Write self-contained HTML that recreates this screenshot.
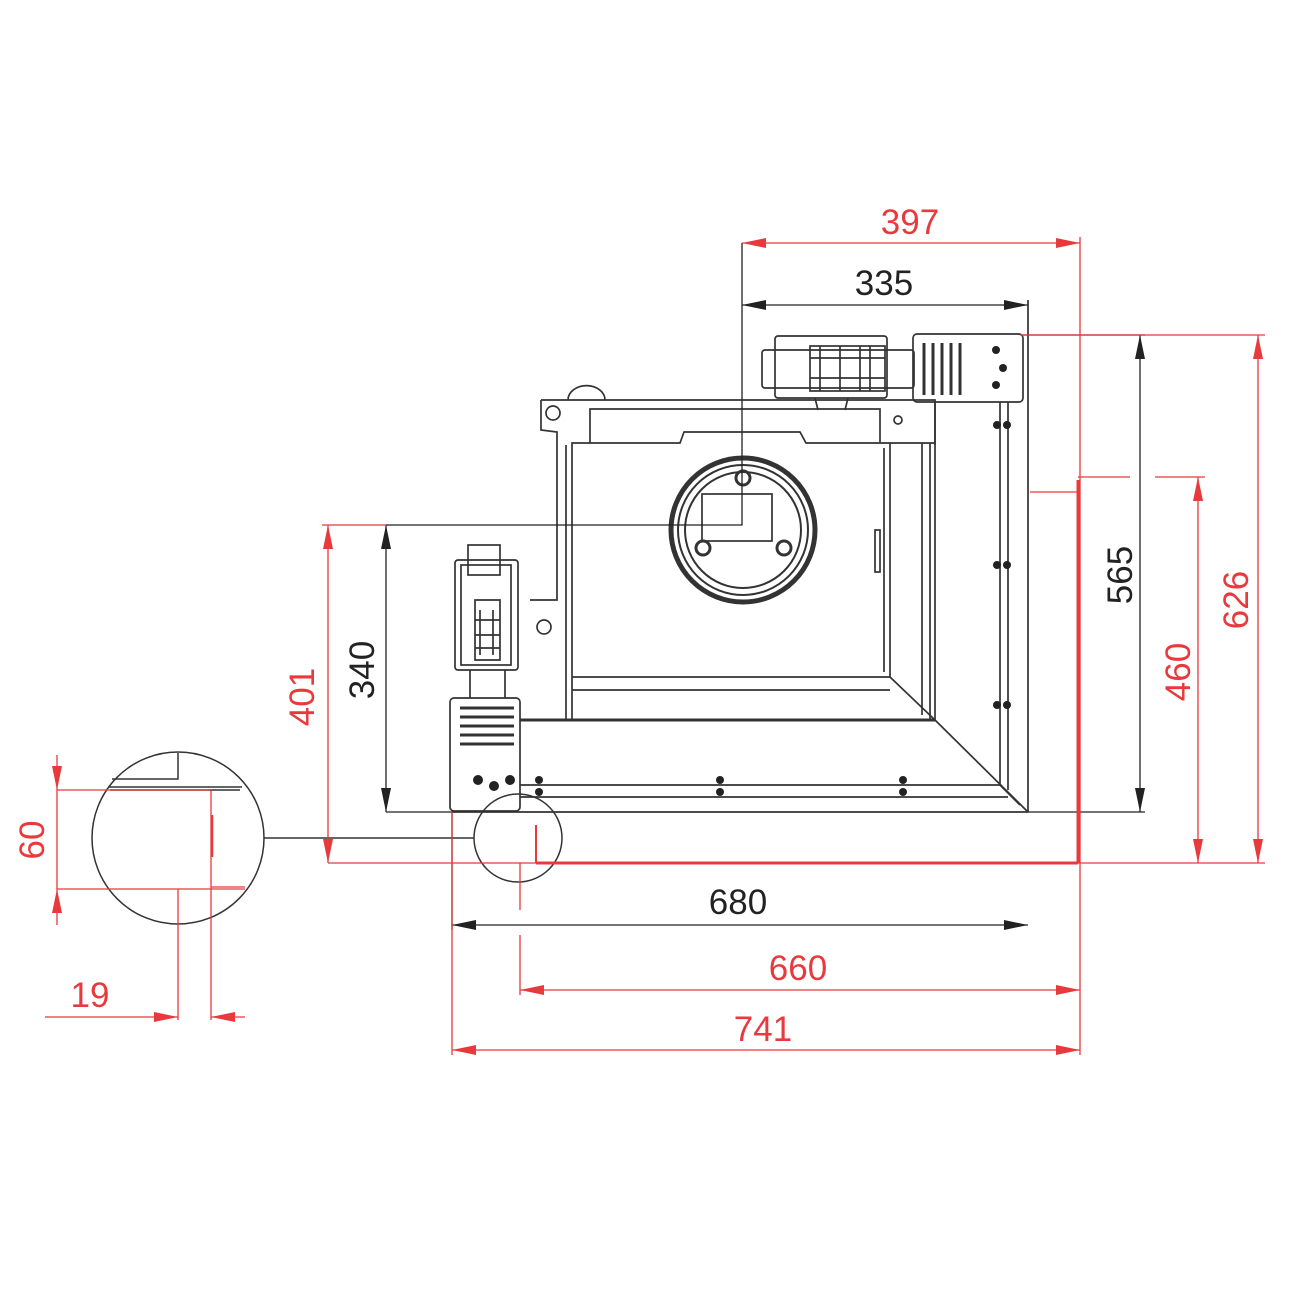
<!DOCTYPE html>
<html><head><meta charset="utf-8"><style>
html,body{margin:0;padding:0;background:#fff;}
svg{display:block;}
text{font-family:"Liberation Sans",sans-serif;font-size:35px;}
</style></head><body>
<svg width="1300" height="1300" viewBox="0 0 1300 1300" xmlns="http://www.w3.org/2000/svg">
<defs>
<marker id="ar" viewBox="0 0 24 10" refX="24" refY="5" markerWidth="24" markerHeight="10" markerUnits="userSpaceOnUse" orient="auto-start-reverse"><path d="M0,0L24,5L0,10z" fill="#e8393c"/></marker>
<marker id="ab" viewBox="0 0 24 10" refX="24" refY="5" markerWidth="24" markerHeight="10" markerUnits="userSpaceOnUse" orient="auto-start-reverse"><path d="M0,0L24,5L0,10z" fill="#222"/></marker>
</defs>
<rect width="1300" height="1300" fill="#fff"/>

<g fill="none" stroke="#333" stroke-width="1.7">
<path d="M541,400 L935,400 L935,445 M541,400 L541,430 L557,432 L557,600 L530,600"/>
<circle cx="553" cy="413" r="7"/>
<circle cx="544" cy="627" r="7"/>
<path d="M568,400 A18,14 0 0 1 605,400"/>
<path d="M590,443 L590,409 L880,409 L880,443"/>
<path d="M572,720 L572,443 L680,443 L684,432 L800,432 L806,443 L935,443"/>
<path d="M566,445 L566,720"/>
<path d="M890,443 L890,677 L572,677 M572,690 L890,690"/>
<path d="M884,448 L884,672"/>
<path d="M922,443 L922,715 M930,443 L930,720"/>
<path d="M890,677 L935,720"/>
<circle cx="898" cy="420" r="4"/>
<path d="M935,402 L935,720 M1000,402 L1000,785 M1008,402 L1008,790 M1028,300 L1028,812"/>
<path d="M520,785 L1000,785 M520,797 L1008,797 M452,812 L1028,812"/>
<path d="M935,720 L1028,812 M1000,785 L1020,805"/>
<circle cx="743" cy="530" r="72" stroke-width="5"/>
<circle cx="743" cy="530" r="65" stroke-width="2"/>
<circle cx="743" cy="530" r="58" stroke-width="2"/>
<rect x="702" y="494" width="70" height="47"/>
<circle cx="743" cy="478" r="7" stroke-width="3"/>
<circle cx="703" cy="548" r="7" stroke-width="3"/>
<circle cx="784" cy="548" r="7" stroke-width="3"/>
<rect x="875" y="530" width="5" height="42"/>
<rect x="775" y="336" width="112" height="62" rx="3"/>
<rect x="762" y="350" width="152" height="38" rx="3"/>
<rect x="810" y="346" width="75" height="45"/>
<path d="M810,358 L885,358 M810,378 L885,378 M840,346 L840,391 M860,346 L860,391 M820,346 L820,391 M870,346 L870,391"/>
<path d="M815,398 L818,410 M848,398 L845,410"/>
<rect x="913" y="334" width="110" height="68" rx="4"/>
<g stroke-width="3"><path d="M924,343 V395 M933,343 V395 M942,343 V395 M951,343 V395 M960,343 V395"/></g>
<rect x="468" y="545" width="32" height="30"/>
<rect x="455" y="560" width="63" height="110" rx="3"/>
<rect x="461" y="565" width="50" height="100"/>
<path d="M475,600 L500,600 L500,660 L475,660 Z M480,610 V655 M493,610 V655 M475,635 H500 M475,620 H500 M475,648 H500"/>
<path d="M470,670 L470,698 M505,670 L505,698"/>
<rect x="450" y="698" width="70" height="113" rx="4"/>
<g stroke-width="3"><path d="M460,708 H514 M460,717 H514 M460,726 H514 M460,735 H514 M460,744 H514"/></g>
<path d="M520,720 L935,720" stroke-width="3"/>
</g>
<g fill="#222">
<circle cx="996" cy="350" r="4"/><circle cx="1003" cy="368" r="4"/><circle cx="996" cy="385" r="4"/>
<circle cx="997" cy="425" r="4"/><circle cx="1007" cy="425" r="4"/>
<circle cx="997" cy="565" r="4"/><circle cx="1007" cy="565" r="4"/>
<circle cx="997" cy="705" r="4"/><circle cx="1007" cy="705" r="4"/>
<circle cx="539" cy="780" r="4"/><circle cx="539" cy="792" r="4"/>
<circle cx="720" cy="780" r="4"/><circle cx="720" cy="792" r="4"/>
<circle cx="903" cy="780" r="4"/><circle cx="903" cy="792" r="4"/>
<circle cx="478" cy="780" r="5"/><circle cx="494" cy="786" r="5"/><circle cx="510" cy="780" r="5"/>
</g>

<g fill="none" stroke="#333" stroke-width="1.5">
<circle cx="178" cy="838" r="86"/>
<circle cx="518" cy="838" r="44"/>
<path d="M264,838 L474,838"/>
<path d="M108,787 L242,787 M110,790 L240,790 M112,779 L178,779 L178,753"/>
</g>

<g stroke="#222" stroke-width="1.3" fill="none">
<path d="M742,305 L1028,305" marker-start="url(#ab)" marker-end="url(#ab)"/>
<path d="M1022,335 L1145,335 M1028,812 L1145,812"/>
<path d="M1140,335 L1140,812" marker-start="url(#ab)" marker-end="url(#ab)"/>
<path d="M386,525 L742,525 L742,243 M386,812 L452,812"/>
<path d="M386,525 L386,812" marker-start="url(#ab)" marker-end="url(#ab)"/>
<path d="M452,812 L452,930"/>
<path d="M452,925 L1028,925" marker-start="url(#ab)" marker-end="url(#ab)"/>
</g>

<g stroke="#e8393c" stroke-width="1.3" fill="none">
<path d="M742,243 L1080,243" marker-start="url(#ar)" marker-end="url(#ar)"/>
<path d="M1080,237 L1080,1055"/>
<path d="M1078,480 L1078,863" stroke-width="3"/>
<path d="M1030,492 L1078,492 M1078,477 L1130,477 M1155,477 L1205,477"/>
<path d="M1020,335 L1265,335 M328,863 L1265,863"/>
<path d="M1258,335 L1258,863" marker-start="url(#ar)" marker-end="url(#ar)"/>
<path d="M1198,477 L1198,863" marker-start="url(#ar)" marker-end="url(#ar)"/>
<path d="M322,525 L386,525"/>
<path d="M328,525 L328,863" marker-start="url(#ar)" marker-end="url(#ar)"/>
<path d="M536,863 L1078,863" stroke-width="3"/>
<path d="M536,825 L536,863" stroke-width="2"/>
<path d="M520,863 L520,910 M520,935 L520,995"/>
<path d="M520,990 L1080,990" marker-start="url(#ar)" marker-end="url(#ar)"/>
<path d="M452,812 L452,1055"/>
<path d="M452,1050 L1080,1050" marker-start="url(#ar)" marker-end="url(#ar)"/>
<path d="M57,790 L210,790 M57,889 L245,889"/>
<path d="M57,755 L57,790" marker-end="url(#ar)"/>
<path d="M57,925 L57,889" marker-end="url(#ar)"/>
<path d="M57,790 L57,889"/>
<path d="M211,790 L211,1020 M178,889 L178,1020 M211,887 L245,887"/>
<path d="M212,815 L212,857" stroke-width="2.5"/>
<path d="M45,1017 L178,1017" marker-end="url(#ar)"/>
<path d="M245,1017 L211,1017" marker-end="url(#ar)"/>
</g>

<g fill="#e8393c">
<text x="910" y="234" text-anchor="middle">397</text>
<text x="798" y="980" text-anchor="middle">660</text>
<text x="763" y="1041" text-anchor="middle">741</text>
<text x="90" y="1007" text-anchor="middle">19</text>
<text transform="translate(1248,600) rotate(-90)" text-anchor="middle">626</text>
<text transform="translate(1190,672) rotate(-90)" text-anchor="middle">460</text>
<text transform="translate(314,697) rotate(-90)" text-anchor="middle">401</text>
<text transform="translate(44,840) rotate(-90)" text-anchor="middle">60</text>
</g>
<g fill="#222">
<text x="884" y="295" text-anchor="middle">335</text>
<text x="738" y="914" text-anchor="middle">680</text>
<text transform="translate(1132,575) rotate(-90)" text-anchor="middle">565</text>
<text transform="translate(374,670) rotate(-90)" text-anchor="middle">340</text>
</g>
</svg>
</body></html>
